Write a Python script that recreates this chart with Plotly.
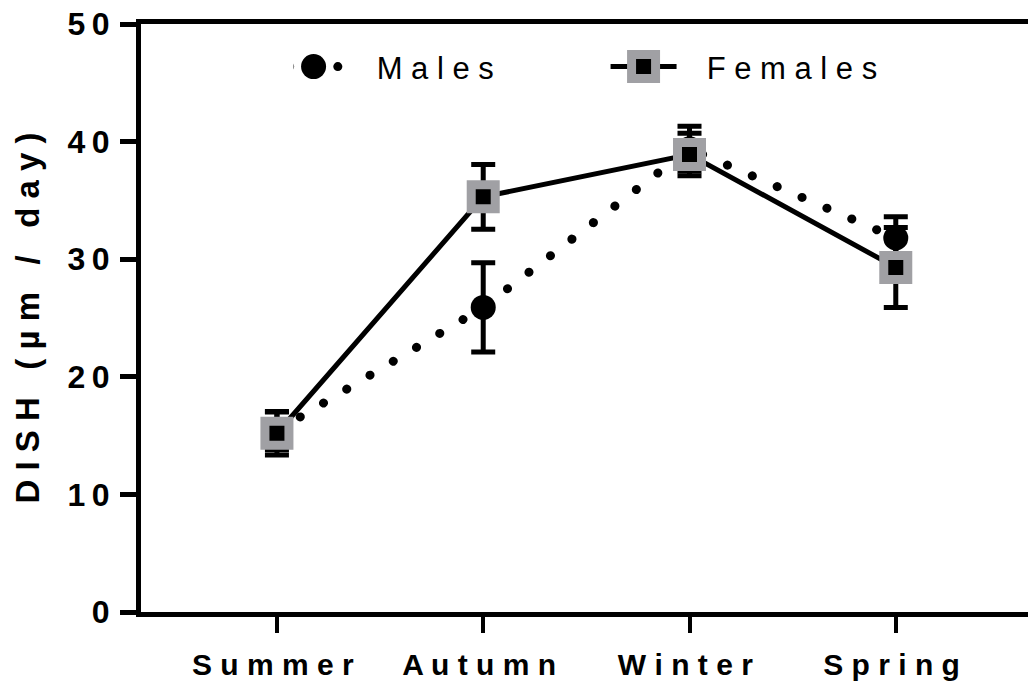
import plotly.graph_objects as go

seasons = ["Summer", "Autumn", "Winter", "Spring"]
season_labels = ["S u m m e r\u00a0", "A u t u m n\u00a0", "W i n t e r\u00a0", "S p r i n g\u00a0"]

males_mean = [15.4, 25.9, 39.4, 31.8]
males_err = [1.6, 3.8, 1.9, 1.8]
females_mean = [15.2, 35.3, 38.9, 29.3]
females_err = [1.85, 2.75, 1.8, 3.4]

y_ticks = [0, 10, 20, 30, 40, 50]
y_ticklabels = ["0", "1\u20090", "2\u20090", "3\u20090", "4\u20090", "5\u20090"]

x_idx = list(range(len(seasons)))
FONT = "Liberation Sans, Arial, sans-serif"
NB = "\u00a0"

fig = go.Figure()

fig.add_trace(go.Scatter(
    x=x_idx, y=males_mean, name=NB * 5 + "M a l e s",
    mode="lines+markers",
    line=dict(color="black", width=9, dash="9px,18px"),
    marker=dict(symbol="circle", size=25, color="black"),
    error_y=dict(type="data", array=males_err, visible=True,
                 thickness=5, width=12, color="black"),
))

fig.add_trace(go.Scatter(
    x=x_idx, y=females_mean, name=NB * 5 + "F e m a l e s",
    mode="lines+markers",
    line=dict(color="black", width=5),
    marker=dict(symbol="square", size=24, color="black",
                line=dict(color="#a0a0a4", width=9)),
    error_y=dict(type="data", array=females_err, visible=True,
                 thickness=5, width=12, color="black"),
))

fig.update_layout(
    width=1028, height=685,
    margin=dict(l=141, r=0, t=24, b=73),
    paper_bgcolor="white", plot_bgcolor="white",
    font=dict(family=FONT, color="black"),
    showlegend=True,
    legend=dict(
        orientation="h", x=0.172, y=0.927, xanchor="left", yanchor="middle",
        font=dict(size=31, family=FONT),
        entrywidth=285, entrywidthmode="pixels",
        bgcolor="rgba(0,0,0,0)", itemsizing="trace",
    ),
    xaxis=dict(
        range=[-0.659, 3.641],
        tickvals=x_idx, ticktext=season_labels,
        showline=True, linewidth=5, linecolor="black", mirror=True,
        ticks="outside", ticklen=16, tickwidth=4, tickcolor="black",
        ticklabelstandoff=6,
        tickfont=dict(size=30, family=FONT, weight="bold"),
        showgrid=False, zeroline=False, fixedrange=True,
    ),
    yaxis=dict(
        range=[0, 50],
        tickvals=y_ticks, ticktext=y_ticklabels,
        showline=True, linewidth=5, linecolor="black",
        ticks="outside", ticklen=16, tickwidth=5, tickcolor="black",
        ticklabelstandoff=4,
        tickfont=dict(size=32, family=FONT, weight="bold"),
        showgrid=False, zeroline=False, fixedrange=True,
        title=dict(text=NB * 8 + "D I S H" + NB * 3 + "( \u00b5 m" + NB * 3 + "/" + NB * 3 + "d a y )",
                   font=dict(size=33, family=FONT, weight="bold"),
                   standoff=20),
    ),
)

post = """
(function(){
  var gd = document.getElementById('{plot_id}');
  function fix(){
    var traces = gd.querySelectorAll('.scatterlayer .trace');
    if (traces.length) {
      traces[0].querySelectorAll('path.js-line').forEach(function(p){
        p.style.strokeDasharray = '0.1px,27px';
        p.style.strokeLinecap = 'round';
      });
    }
    var leg = gd.querySelectorAll('.legend .traces');
    leg.forEach(function(t, i){
      t.querySelectorAll('path.js-line').forEach(function(p){
        if (i === 0) {
          p.setAttribute('d', 'M-4,0h49');
          p.style.strokeDasharray = '0.1px,24px';
          p.style.strokeLinecap = 'round';
          p.style.strokeWidth = '9px';
        } else {
          p.setAttribute('d', 'M-13,0h66');
          p.style.strokeWidth = '5px';
        }
      });
      t.querySelectorAll('path.scatterpts').forEach(function(p){
        if (i === 0) {
          p.setAttribute('d', 'M12.5,0A12.5,12.5 0 1,1 0,-12.5A12.5,12.5 0 0,1 12.5,0Z');
        } else {
          p.setAttribute('d', 'M12,12H-12V-12H12Z');
          p.style.strokeWidth = '9px';
        }
      });
    });
  }
  fix();
  if (gd.on) gd.on('plotly_afterplot', fix);
})();
"""

fig.write_html("out.html", post_script=post)
